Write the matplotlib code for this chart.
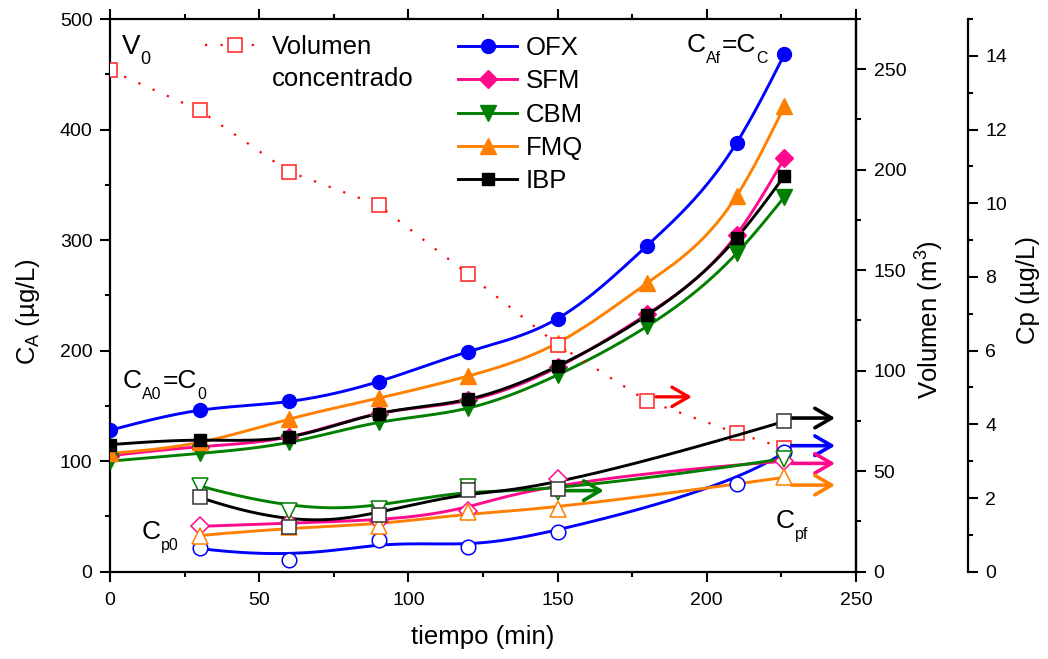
import numpy as np
import matplotlib
matplotlib.use('Agg')
import matplotlib.pyplot as plt
from matplotlib.lines import Line2D

plt.rcParams['font.family'] = ['Liberation Sans', 'DejaVu Sans']
plt.rcParams['mathtext.fontset'] = 'custom'
plt.rcParams['mathtext.rm'] = 'Liberation Sans'
plt.rcParams['mathtext.it'] = 'Liberation Sans:italic'
plt.rcParams['mathtext.default'] = 'regular'

# ---------------- data ----------------
time = [0, 30, 60, 90, 120, 150, 180, 210, 226]
ca_ofx = [128, 146, 154, 172, 199, 229, 295, 388, 468]
ca_sfm = [105, 113, 122, 143, 155, 185, 233, 305, 374]
ca_cbm = [100, 107, 117, 135, 148, 178, 222, 288, 339]
ca_fmq = [107, 117, 138, 157, 177, 207, 261, 340, 421]
ca_ibp = [115, 119, 122, 143, 156, 186, 232, 302, 358]

volumen = [249.5, 229.6, 199, 182.4, 148, 113, 85, 69, 61.5]

cp_ofx_time = [30, 60, 90, 120, 150, 210, 226]
cp_ofx = [0.63, 0.33, 0.87, 0.66, 1.07, 2.39, 3.24]
cp_time = [30, 60, 90, 120, 150, 226]
cp_sfm = [1.23, 1.32, 1.38, 1.64, 2.52, 3.0]
cp_cbm = [2.33, 1.66, 1.71, 2.29, 2.15, 3.07]
cp_fmq = [0.98, 1.2, 1.25, 1.61, 1.70, 2.56]
cp_ibp = [2.02, 1.2, 1.55, 2.22, 2.25, 4.08]

series_names = ['OFX', 'SFM', 'CBM', 'FMQ', 'IBP']
series_colors = ['#0000ff', '#ff0a8c', '#007f00', '#ff8000', '#000000']
series_markers = ['o', 'D', 'v', '^', 's']
series_ms = [10, 9, 11, 11, 9]
ca_all = [ca_ofx, ca_sfm, ca_cbm, ca_fmq, ca_ibp]
cp_all_t = [cp_ofx_time, cp_time, cp_time, cp_time, cp_time]
cp_all = [cp_ofx, cp_sfm, cp_cbm, cp_fmq, cp_ibp]
# arrows pointing to the Cp axis (time range, Cp level)
arrow_cp = [(228.4, 243, 3.42), (228.4, 243, 2.94), (152.5, 165.5, 2.2),
            (228.4, 243, 2.35), (228.4, 243, 4.17)]
vol_arrow = (183, 195, 87)


# ---------------- curve helpers ----------------
def natural_spline(x, y, n=300):
    x = np.asarray(x, float); y = np.asarray(y, float)
    m = len(x); h = np.diff(x)
    A = np.zeros((m, m)); b = np.zeros(m)
    A[0, 0] = A[-1, -1] = 1
    for i in range(1, m - 1):
        A[i, i - 1] = h[i - 1]; A[i, i] = 2 * (h[i - 1] + h[i]); A[i, i + 1] = h[i]
        b[i] = 6 * ((y[i + 1] - y[i]) / h[i] - (y[i] - y[i - 1]) / h[i - 1])
    M = np.linalg.solve(A, b)
    xx = np.linspace(x[0], x[-1], n)
    j = np.clip(np.searchsorted(x, xx) - 1, 0, m - 2)
    t0 = x[j + 1] - xx; t1 = xx - x[j]; hh = h[j]
    yy = (M[j] * t0 ** 3 + M[j + 1] * t1 ** 3) / (6 * hh) \
        + (y[j] / hh - M[j] * hh / 6) * t0 + (y[j + 1] / hh - M[j + 1] * hh / 6) * t1
    return xx, yy


def bspline(x, y, k=3, n=300):
    P = np.column_stack([np.asarray(x, float), np.asarray(y, float)])
    m = len(P); k = min(k, m - 1)
    knots = np.concatenate([np.zeros(k), np.linspace(0, 1, m - k + 1), np.ones(k)])
    u = np.linspace(0, 1, n)
    nk = len(knots)
    N = np.zeros((n, nk - 1))
    for i in range(nk - 1):
        N[:, i] = (u >= knots[i]) & (u < knots[i + 1])
    last = max(i for i in range(nk - 1) if knots[i] < knots[i + 1])
    N[u >= 1, last] = 1
    for p in range(1, k + 1):
        Nn = np.zeros((n, nk - 1 - p))
        for i in range(nk - 1 - p):
            d1 = knots[i + p] - knots[i]; d2 = knots[i + p + 1] - knots[i + 1]
            t = np.zeros(n)
            if d1 > 0:
                t += (u - knots[i]) / d1 * N[:, i]
            if d2 > 0:
                t += (knots[i + p + 1] - u) / d2 * N[:, i + 1]
            Nn[:, i] = t
        N = Nn
    C = N @ P
    return C[:, 0], C[:, 1]


# ---------------- figure ----------------
W, H = 1048, 659
fig = plt.figure(figsize=(W / 100, H / 100), dpi=100)
x0, x1, ytop, ybot = 110, 856, 19, 571.7
ax = fig.add_axes([x0 / W, (H - ybot) / H, (x1 - x0) / W, (ybot - ytop) / H])
ax2 = ax.twinx()
ax3 = ax.twinx()

ax.set_xlim(0, 250)
ax.set_ylim(0, 500)
ax2.set_ylim(0, 275)
ax3.set_ylim(0, 15)

TF = 14
for a in (ax, ax2, ax3):
    for s in a.spines.values():
        s.set_linewidth(1.6)
    a.tick_params(which='major', direction='out', length=7.2, width=1.5, labelsize=TF, pad=5.5)
    a.tick_params(which='minor', direction='out', length=3.8, width=1.5)

ax.set_xticks(np.arange(0, 251, 50))
ax.set_xticks(np.arange(0, 251, 25), minor=True)
ax.set_yticks(np.arange(0, 501, 100))
ax.set_yticks(np.arange(0, 501, 50), minor=True)
ax.tick_params(axis='x', which='both', top=True, labeltop=False)
ax.tick_params(axis='x', which='major', pad=7.5)
ax.tick_params(axis='y', which='both', right=False)

ax2.set_yticks(np.arange(0, 251, 50))
ax2.set_yticks(np.arange(0, 276, 25), minor=True)
ax3.set_yticks(np.arange(0, 15, 2))
ax3.set_yticks(np.arange(0, 16, 1), minor=True)
ax3.spines['right'].set_position(('axes', (967.7 - x0) / (x1 - x0)))
for side in ('top', 'bottom', 'left'):
    ax3.spines[side].set_visible(False)
for side in ('top', 'bottom', 'left'):
    ax2.spines[side].set_visible(False)

# C_A curves
for name, c, mk, ms, ca in zip(series_names, series_colors, series_markers, series_ms, ca_all):
    xs, ys = natural_spline(time, ca)
    ax.plot(xs, ys, color=c, lw=2.1, zorder=3)
    ax.plot(time, ca, ls='none', marker=mk, ms=ms, color=c, mec=c, zorder=4)

# Volume
ax2.plot(time, volumen, ls=(0, (1, 6)), lw=1.6, color='#ff0000', marker='s', ms=9.5,
         mfc='white', mec='#ff2020', mew=1.1, zorder=3)
ax2.annotate('', xy=(vol_arrow[1], vol_arrow[2]), xytext=(vol_arrow[0], vol_arrow[2]),
             arrowprops=dict(arrowstyle='->,head_length=0.6,head_width=0.35', color='#ff0000',
                             lw=2.4, mutation_scale=20, shrinkA=0, shrinkB=0))

# Cp curves
cp_ms = [10.5, 9.5, 12, 12, 9.5]
for c, mk, ms, ct, cp, arr in zip(series_colors, series_markers, cp_ms, cp_all_t, cp_all, arrow_cp):
    xs, ys = bspline(ct, cp)
    ax3.plot(xs, ys, color=c, lw=2.1, zorder=3)
    ax3.plot(ct, cp, ls='none', marker=mk, ms=ms, mfc='white', mec=c if c != '#000000' else '#333333',
             mew=1.1, zorder=4)
    ax3.annotate('', xy=(arr[1], arr[2]), xytext=(arr[0], arr[2]),
                 arrowprops=dict(arrowstyle='->,head_length=0.6,head_width=0.35', color=c,
                                 lw=2.6, mutation_scale=20, shrinkA=0, shrinkB=0))

# labels
LF = 18.5
ax.set_xlabel('tiempo (min)', fontsize=LF, va='center')
ax.xaxis.set_label_coords(0.5, (ybot - 637) / (ybot - ytop))
ax.set_ylabel('C$_A$ (µg/L)', fontsize=LF, va='center')
ax.yaxis.set_label_coords((28 - x0) / (x1 - x0), (ybot - 312) / (ybot - ytop))
ax2.set_ylabel('Volumen (m$^3$)', fontsize=LF, va='center', rotation=90)
ax2.yaxis.set_label_coords((930 - x0) / (x1 - x0), (ybot - 320) / (ybot - ytop))
ax3.set_ylabel('Cp (µg/L)', fontsize=LF, va='center', rotation=90)
ax3.yaxis.set_label_coords((1028 - x0) / (x1 - x0), (ybot - 290) / (ybot - ytop))


def px(x, y):
    return x / W, 1 - y / H


renderer = fig.canvas.get_renderer()


def sub_label(xp, yp, parts, fs, ratio=0.6, drop=0.4):
    """Draw text with Origin-like subscripts: parts = [(text, is_subscript), ...]."""
    x = xp
    for s, sub in parts:
        f = fs * ratio if sub else fs
        dy = drop * fs * 100 / 72 if sub else 0
        t = fig.text(*px(x, yp + dy), s, fontsize=f, va='baseline', ha='left')
        x += t.get_window_extent(renderer).width + (1.0 if sub else 0)


AF = 19
sub_label(122, 54, [('V', False), ('0', True)], 20, ratio=0.65, drop=0.36)
sub_label(123, 388, [('C', False), ('A0', True), ('=C', False), ('0', True)], AF)
sub_label(687, 52, [('C', False), ('Af', True), ('=C', False), ('C', True)], AF)
sub_label(142, 539, [('C', False), ('p0', True)], AF)
sub_label(776, 528, [('C', False), ('pf', True)], AF)

# legends
LEGF = 18.5
h_vol = Line2D([], [], ls=(0, (1, 6)), lw=1.6, color='#ff0000', marker='s', ms=9.5,
               mfc='white', mec='#ff2020', mew=1.1)
leg1 = fig.legend([h_vol], ['Volumen'], loc='upper left',
                  bbox_to_anchor=px(205, 35), frameon=False, fontsize=LEGF,
                  handlelength=2.3, handletextpad=0.3, borderpad=0, borderaxespad=0)
fig.text(*px(272, 79), 'concentrado', fontsize=LEGF, va='center', ha='left')
hs = [Line2D([], [], color=c, lw=2.1, marker=mk, ms=ms, mec=c)
      for c, mk, ms in zip(series_colors, series_markers, series_ms)]
leg2 = fig.legend(hs, series_names, loc='upper left', bbox_to_anchor=px(458, 36),
                  frameon=False, fontsize=LEGF, handlelength=2.3, handletextpad=0.35,
                  borderpad=0, borderaxespad=0, labelspacing=0.36)

fig.savefig('out.png', dpi=100)
